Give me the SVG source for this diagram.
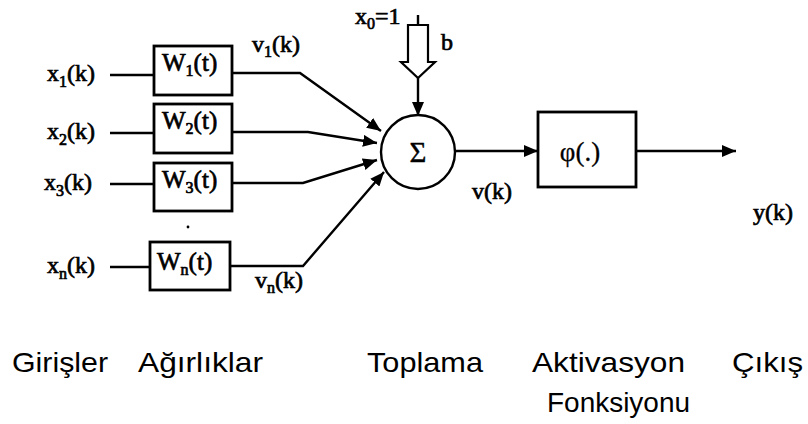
<svg xmlns="http://www.w3.org/2000/svg" width="808" height="424" viewBox="0 0 808 424">
<defs>
<marker id="ah" viewBox="0 0 14 12" refX="14" refY="6" markerWidth="14" markerHeight="12" markerUnits="userSpaceOnUse" orient="auto">
<path d="M0,0 L14,6 L0,12 Z" fill="#000"/>
</marker>
<style>
.ln{fill:none;stroke:#000;stroke-width:2.4}
.box{fill:#fff;stroke:#000;stroke-width:2.8}
.m{font-family:"Liberation Serif","Times New Roman",serif;font-size:24px;fill:#000;stroke:#000;stroke-width:0.7}
.s{font-size:16px}
.lab{font-family:"Liberation Sans",Arial,sans-serif;font-size:28px;fill:#000}
</style>
</defs>
<rect width="808" height="424" fill="#fff"/>
<g id="connectors">
<line class="ln" x1="110" y1="75" x2="154" y2="75"/>
<line class="ln" x1="110" y1="133" x2="154" y2="133"/>
<line class="ln" x1="110" y1="184" x2="154" y2="184"/>
<line class="ln" x1="110" y1="267" x2="150" y2="267"/>
<path class="ln" d="M232,73 L300,73 L381,131" marker-end="url(#ah)"/>
<path class="ln" d="M232,132 L308,132 L377,143" marker-end="url(#ah)"/>
<path class="ln" d="M232,183 L303,183 L377,160" marker-end="url(#ah)"/>
<path class="ln" d="M230,266 L303,266 L384,172" marker-end="url(#ah)"/>
<line class="ln" x1="418" y1="15" x2="418" y2="25"/>
<polygon points="408,25 428,25 428,62 435,62 418,78 401,62 408,62" fill="#fff" stroke="#000" stroke-width="2.2"/>
<line class="ln" x1="418" y1="78" x2="418" y2="116" marker-end="url(#ah)"/>
<line class="ln" x1="455" y1="151" x2="538" y2="151" marker-end="url(#ah)"/>
<line class="ln" x1="636" y1="151" x2="736" y2="151" marker-end="url(#ah)"/>
</g>
<g id="x1"><text class="m" x="47" y="81">x<tspan class="s" dy="6">1</tspan><tspan dy="-6">(k)</tspan></text></g>
<g id="x2"><text class="m" x="47" y="139">x<tspan class="s" dy="6">2</tspan><tspan dy="-6">(k)</tspan></text></g>
<g id="x3"><text class="m" x="44" y="190">x<tspan class="s" dy="6">3</tspan><tspan dy="-6">(k)</tspan></text></g>
<g id="xn"><text class="m" x="47" y="273">x<tspan class="s" dy="6">n</tspan><tspan dy="-6">(k)</tspan></text></g>
<g id="w1"><rect class="box" x="154" y="46" width="78" height="49"/><text class="m" x="162" y="71" style="font-size:25px">W<tspan class="s" dy="5">1</tspan><tspan dy="-5">(t)</tspan></text></g>
<g id="w2"><rect class="box" x="154" y="104" width="78" height="49"/><text class="m" x="162" y="129" style="font-size:25px">W<tspan class="s" dy="5">2</tspan><tspan dy="-5">(t)</tspan></text></g>
<g id="w3"><rect class="box" x="154" y="163" width="78" height="48"/><text class="m" x="162" y="188" style="font-size:25px">W<tspan class="s" dy="5">3</tspan><tspan dy="-5">(t)</tspan></text></g>
<circle cx="188" cy="227" r="1.4" fill="#000"/>
<g id="wn"><rect class="box" x="150" y="242" width="80" height="48"/><text class="m" x="157" y="270" style="font-size:25px">W<tspan class="s" dy="5">n</tspan><tspan dy="-5">(t)</tspan></text></g>
<g id="v1"><text class="m" x="252" y="52">v<tspan class="s" dy="5">1</tspan><tspan dy="-5">(k)</tspan></text></g>
<g id="vn"><text class="m" x="255" y="288">v<tspan class="s" dy="5">n</tspan><tspan dy="-5">(k)</tspan></text></g>
<g id="bias"><text class="m" x="355" y="24">x<tspan class="s" dy="5">0</tspan><tspan dy="-5">=1</tspan></text><text class="m" x="441" y="50">b</text></g>
<g id="sum"><circle cx="418" cy="152" r="37" fill="#fff" stroke="#000" stroke-width="2.4"/><text class="m" x="418" y="162" text-anchor="middle" style="font-size:29px;stroke-width:0.4">Σ</text></g>
<g id="vk"><text class="m" x="472" y="199">v(k)</text></g>
<g id="phi"><rect class="box" x="538" y="112" width="98" height="75"/><text class="m" x="580" y="161" text-anchor="middle" style="font-size:27px;stroke-width:0.3">φ(.)</text></g>
<g id="yk"><text class="m" x="753" y="220">y(k)</text></g>
<g id="labels">
<text class="lab" x="12" y="372" textLength="96" lengthAdjust="spacingAndGlyphs">Girişler</text>
<text class="lab" x="138" y="372" textLength="125" lengthAdjust="spacingAndGlyphs">Ağırlıklar</text>
<text class="lab" x="367" y="372" textLength="116" lengthAdjust="spacingAndGlyphs">Toplama</text>
<text class="lab" x="532" y="372" textLength="153" lengthAdjust="spacingAndGlyphs">Aktivasyon</text>
<text class="lab" x="732" y="372" textLength="71" lengthAdjust="spacingAndGlyphs">Çıkış</text>
<text class="lab" x="547" y="412" textLength="143" lengthAdjust="spacingAndGlyphs">Fonksiyonu</text>
</g>
</svg>
